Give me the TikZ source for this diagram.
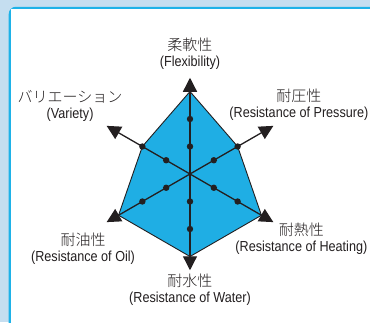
\documentclass[tikz,border=0pt]{standalone}
\usepackage{fontspec}
\setmainfont{Liberation Sans}[FakeStretch=0.87]
\newfontfamily\cjk{Noto Sans CJK JP Light}
\usetikzlibrary{arrows.meta}
\definecolor{pagebg}{RGB}{197,222,240}
\definecolor{frameline}{RGB}{30,178,232}
\definecolor{chartfill}{RGB}{31,174,228}
\definecolor{inkgray}{RGB}{35,31,32}
\tikzset{
  axis/.style={line width=1.3pt, draw=inkgray, {Triangle[length=14pt,width=14pt]}-{Triangle[length=14pt,width=14pt]}},
  chart/.style={fill=chartfill, draw=inkgray, line width=0.9pt, line join=miter},
  dot/.style={fill=inkgray},
  axlabel/.style={inner sep=0pt, align=center, text=inkgray, font=\fontsize{14.5pt}{16pt}\selectfont},
}
\newcommand{\jp}[1]{{\cjk\fontsize{15pt}{16pt}\selectfont #1}}

\begin{document}
\begin{tikzpicture}[x=27.5pt,y=27.5pt]
    % page and panel
    \fill[pagebg] (-190pt,-148pt) rectangle (180pt,174pt);
    \useasboundingbox (-190pt,-148pt) rectangle (180pt,174pt);
    \filldraw[fill=white, draw=frameline, line width=2.5pt, rounded corners=6pt]
        (-180pt,-175pt) -- (-180pt,166pt) -- (200pt,166pt);
    \fill[white] (-178.75pt,-175pt) rectangle (200pt,164.75pt);

    % axis ends
    \foreach \a in {90,30,-30,-90,-150,150}
        \coordinate (tip\a) at (\a:3.5);

    % chart
    \path[chart] (90:3) -- (30:2) -- (-30:3) -- (-90:3) -- (-150:3) -- (150:2) -- cycle;
    \draw[axis] (tip-90) -- (tip90);
    \draw[axis] (tip-150) -- (tip30);
    \draw[axis] (tip-30) -- (tip150);
    \foreach \a in {90,30,-30,-90,-150,150}
        \foreach \r in {1,2}
            \fill[dot] (\a:\r) circle (3.2pt);

    % labels
    \node[axlabel] (flex) at (0,4.38) {\jp{柔軟性}\\(Flexibility)};
    \node[axlabel] (press) at (3.96,2.53) {\jp{耐圧性}\\(Resistance of Pressure)};
    \node[axlabel] (heat) at (4.05,-2.35) {\jp{耐熱性}\\(Resistance of Heating)};
    \node[axlabel] (water) at (0,-4.2) {\jp{耐水性}\\(Resistance of Water)};
    \node[axlabel] (oil) at (-3.89,-2.71) {\jp{耐油性}\\(Resistance of Oil)};
    \node[axlabel] (variety) at (-4.36,2.47) {\jp{バリエーション}\\(Variety)};
\end{tikzpicture}
\end{document}
